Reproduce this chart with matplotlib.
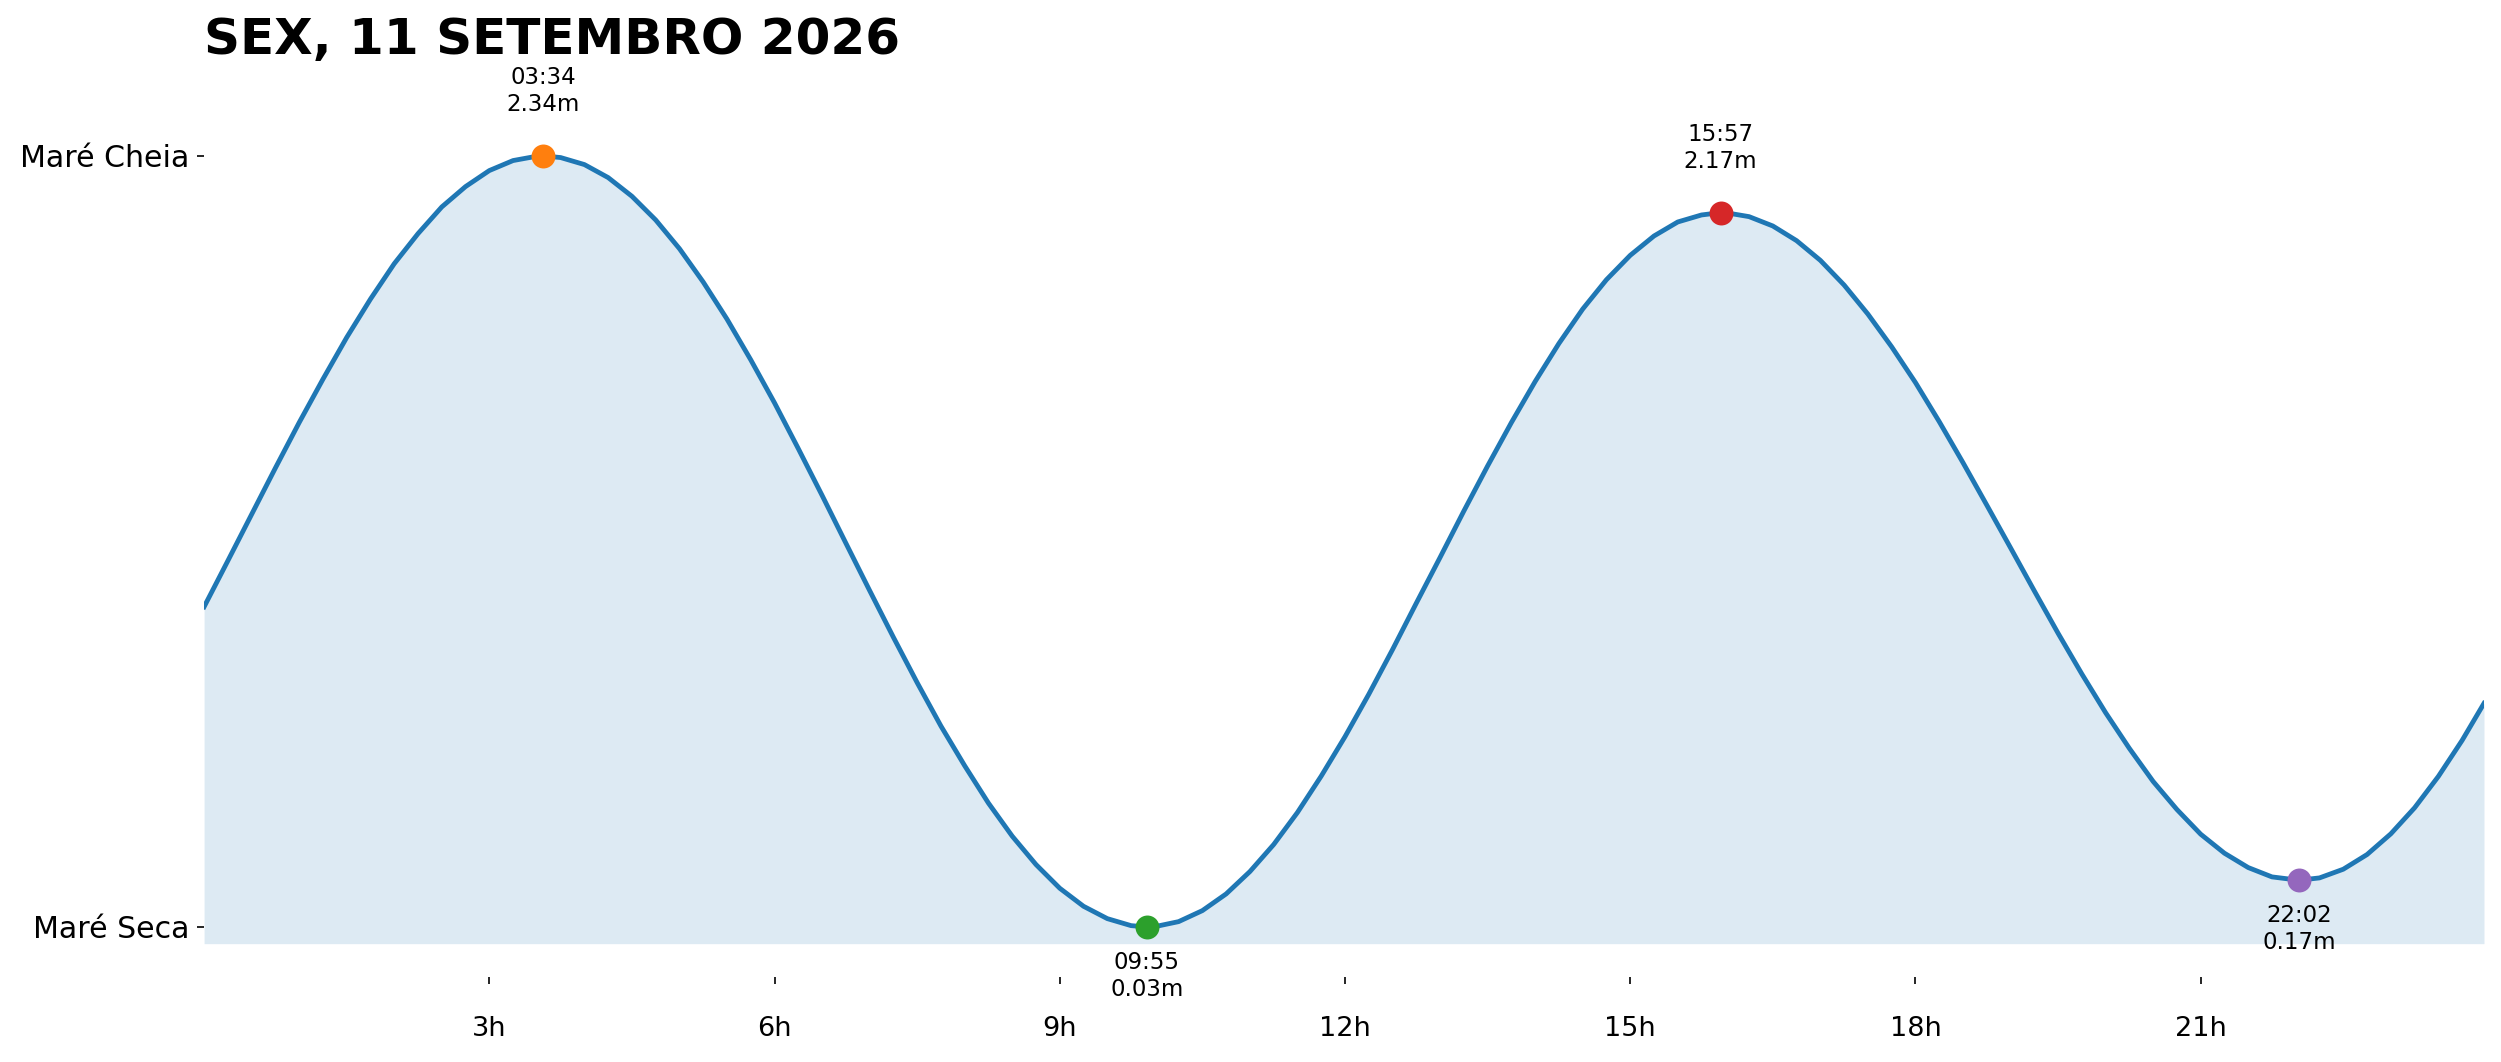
import numpy as np
import matplotlib.pyplot as plt

# Tide heights (m) every quarter hour, plus the turning points
hours = [0.0, 0.25, 0.5, 0.75, 1.0, 1.25, 1.5, 1.75, 2.0, 2.25, 2.5, 2.75,
         3.0, 3.25, 3.5, 3.567, 3.75, 4.0, 4.25, 4.5, 4.75, 5.0, 5.25, 5.5, 5.75,
         6.0, 6.25, 6.5, 6.75, 7.0, 7.25, 7.5, 7.75, 8.0, 8.25, 8.5, 8.75,
         9.0, 9.25, 9.5, 9.75, 9.917, 10.0, 10.25, 10.5, 10.75, 11.0, 11.25, 11.5, 11.75,
         12.0, 12.25, 12.5, 12.75, 13.0, 13.25, 13.5, 13.75, 14.0, 14.25, 14.5, 14.75,
         15.0, 15.25, 15.5, 15.75, 15.95, 16.0, 16.25, 16.5, 16.75, 17.0, 17.25, 17.5, 17.75,
         18.0, 18.25, 18.5, 18.75, 19.0, 19.25, 19.5, 19.75, 20.0, 20.25, 20.5, 20.75,
         21.0, 21.25, 21.5, 21.75, 22.033, 22.25, 22.5, 22.75, 23.0, 23.25, 23.5, 23.75, 23.98]
heights = [0.989, 1.127, 1.266, 1.405, 1.541, 1.671, 1.796, 1.911, 2.017, 2.107, 2.187, 2.248,
           2.296, 2.326, 2.339, 2.340, 2.335, 2.314, 2.275, 2.219, 2.148, 2.062, 1.962, 1.851, 1.729,
           1.600, 1.463, 1.323, 1.180, 1.038, 0.898, 0.762, 0.632, 0.513, 0.401, 0.302, 0.217,
           0.146, 0.092, 0.055, 0.034, 0.030, 0.031, 0.046, 0.079, 0.129, 0.196, 0.277, 0.373, 0.482,
           0.600, 0.727, 0.861, 1.000, 1.137, 1.276, 1.411, 1.541, 1.664, 1.778, 1.881, 1.969,
           2.042, 2.100, 2.142, 2.163, 2.170, 2.170, 2.158, 2.130, 2.086, 2.027, 1.953, 1.866, 1.768,
           1.661, 1.544, 1.421, 1.294, 1.166, 1.037, 0.910, 0.788, 0.672, 0.565, 0.466, 0.382,
           0.308, 0.251, 0.208, 0.180, 0.170, 0.177, 0.203, 0.247, 0.309, 0.387, 0.481, 0.589, 0.700]

# High / low tide events
event_hours = [3.567, 9.917, 15.95, 22.033]
event_labels = ["03:34", "09:55", "15:57", "22:02"]
event_heights = [2.34, 0.03, 2.17, 0.17]
event_is_high = [True, False, True, False]

hour_ticks = [3, 6, 9, 12, 15, 18, 21]
title = "SEX, 11 SETEMBRO 2026"

DPI = 150
fig = plt.figure(figsize=(2501 / DPI, 1062 / DPI), dpi=DPI)
ax = fig.add_axes([0.0816, 0.080, 0.9116, 0.8518])

lo, hi = min(event_heights), max(event_heights)
ax.plot(hours, heights, color="tab:blue", lw=2.3, zorder=2)
ax.fill_between(hours, heights, lo - 0.05, color="tab:blue", alpha=0.15, lw=0, zorder=1)

colors = ["tab:orange", "tab:green", "tab:red", "tab:purple"]
for t, h, lab, high, c in zip(event_hours, event_heights, event_labels, event_is_high, colors):
    ax.scatter([t], [h], s=110, color=c, zorder=3)
    ax.annotate(f"{lab}\n{h:.2f}m", (t, h), textcoords="offset pixels",
                xytext=(0, 40) if high else (0, -24),
                ha="center", va="bottom" if high else "top", fontsize=11,
                annotation_clip=False)

ax.set_xlim(hours[0], hours[-1])
ax.set_ylim(lo - 0.15, hi + 0.25)
ax.set_xticks(hour_ticks)
ax.set_xticklabels([f"{h}h" for h in hour_ticks], fontsize=13)
ax.tick_params(axis="x", pad=15)
ax.set_yticks([lo, hi])
ax.set_yticklabels(["Maré Seca", "Maré Cheia"], fontsize=14.4)

for side in ["top", "right", "left", "bottom"]:
    ax.spines[side].set_visible(False)

ax.set_title(title, loc="left", fontsize=24, fontweight="bold", pad=9)

plt.savefig("out.png", dpi=DPI)
plt.close()
